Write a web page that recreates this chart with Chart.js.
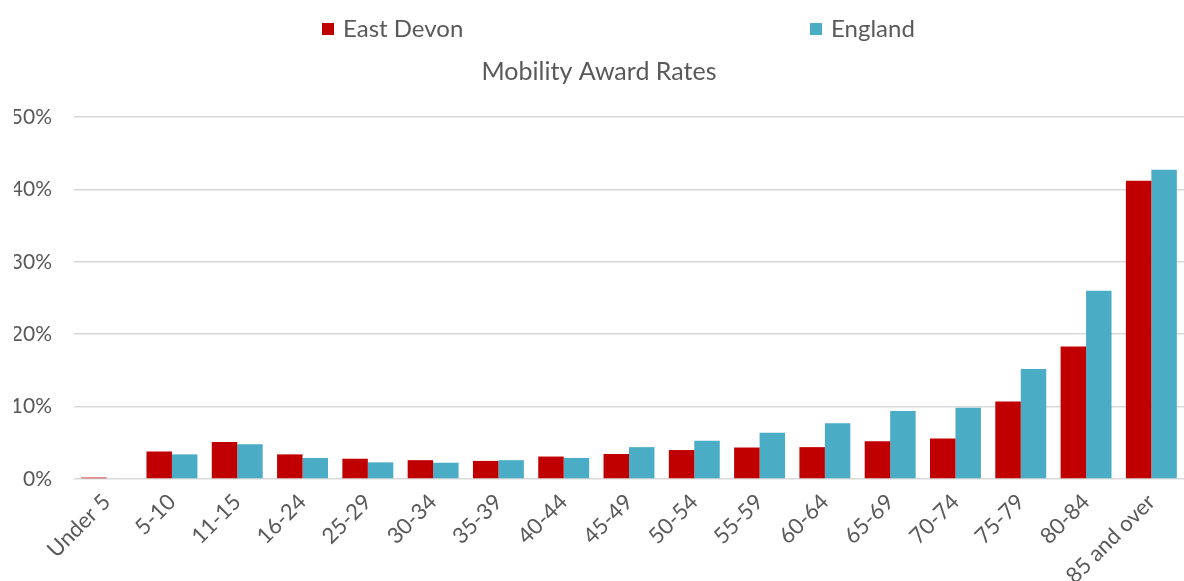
<!DOCTYPE html>
<html>
<head>
<meta charset="utf-8">
<script src="https://cdn.jsdelivr.net/npm/chart.js@4"></script>
<style>
  html, body { margin: 0; padding: 0; background: #fff; }
  #wrap { width: 1184px; height: 581px; position: relative; }
</style>
</head>
<body>
<div id="wrap"><canvas id="mobilityChart"></canvas></div>
<script>
const categories = ['Under 5', '5-10', '11-15', '16-24', '25-29', '30-34', '35-39', '40-44', '45-49',
  '50-54', '55-59', '60-64', '65-69', '70-74', '75-79', '80-84', '85 and over'];
const eastDevon = [0.2, 3.8, 5.1, 3.4, 2.8, 2.6, 2.5, 3.1, 3.45, 4.0, 4.35, 4.4, 5.2, 5.6, 10.7, 18.3, 41.2];
const england = [0.1, 3.4, 4.8, 2.9, 2.3, 2.25, 2.6, 2.9, 4.4, 5.3, 6.4, 7.7, 9.4, 9.85, 15.2, 26.0, 42.7];
const yMax = 50;
const yStep = 10;

const textColor = '#595959';
const fontFamily = 'Lato, "Open Sans", sans-serif';

// legend drawn by hand: Excel spreads the two entries far apart
const topLegend = {
  id: 'topLegend',
  afterDraw(chart) {
    const ctx = chart.ctx;
    const xs = [322, 810];
    ctx.save();
    chart.data.datasets.forEach(function (ds, i) {
      ctx.fillStyle = ds.backgroundColor;
      ctx.fillRect(xs[i], 23, 12, 12);
      ctx.fillStyle = textColor;
      ctx.font = '24px ' + fontFamily;
      ctx.textBaseline = 'middle';
      ctx.fillText(ds.label, xs[i] + 21, 29);
    });
    ctx.restore();
  }
};

document.addEventListener("DOMContentLoaded", function () {
  const ctx = document.getElementById('mobilityChart').getContext('2d');
  new Chart(ctx, {
    type: 'bar',
    data: {
      labels: categories,
      datasets: [{
        label: 'East Devon',
        data: eastDevon,
        backgroundColor: '#C00000',
        categoryPercentage: 0.78,
        barPercentage: 1.0
      }, {
        label: 'England',
        data: england,
        backgroundColor: '#4BACC6',
        categoryPercentage: 0.78,
        barPercentage: 1.0
      }]
    },
    options: {
      responsive: true,
      maintainAspectRatio: false,
      animation: false,
      layout: {
        padding: { top: 50, left: 14, right: 0, bottom: 0 }
      },
      scales: {
        x: {
          grid: { display: false },
          border: { display: false },
          ticks: {
            color: textColor,
            font: { family: fontFamily, size: 22 },
            maxRotation: 45,
            minRotation: 45,
            padding: 2
          },
          afterFit: function (scale) { scale.height = 102; }
        },
        y: {
          min: 0,
          max: yMax,
          border: { display: false },
          grid: { color: '#d9d9d9', lineWidth: 1.5, drawTicks: false },
          ticks: {
            stepSize: yStep,
            color: textColor,
            font: { family: fontFamily, size: 21 },
            padding: 22,
            callback: function (v) { return v + '%'; }
          },
          afterFit: function (scale) { scale.width = 60; }
        }
      },
      plugins: {
        legend: { display: false },
        tooltip: { enabled: false },
        title: {
          display: true,
          text: 'Mobility Award Rates',
          color: textColor,
          font: { family: fontFamily, size: 25, weight: 'normal' },
          padding: { top: 7, bottom: 30 }
        }
      }
    },
    plugins: [topLegend]
  });
});
</script>
</body>
</html>
